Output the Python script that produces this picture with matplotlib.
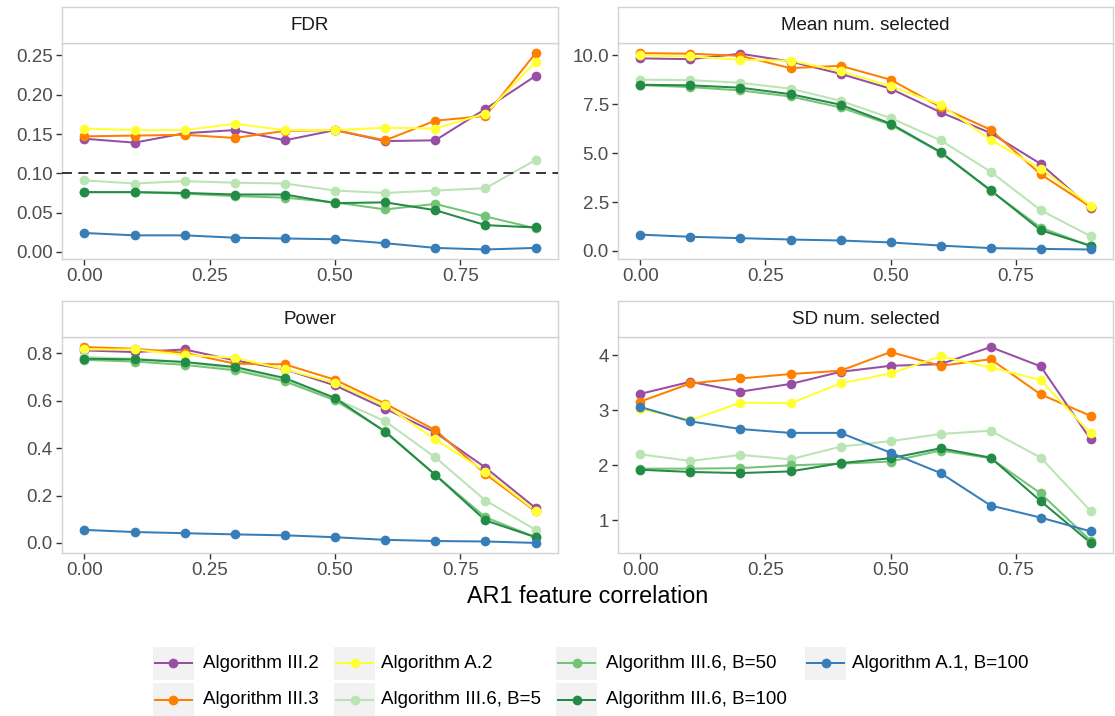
import matplotlib
matplotlib.use("Agg")
import matplotlib.pyplot as plt
from matplotlib.patches import Rectangle
from matplotlib.lines import Line2D
from matplotlib.ticker import FixedLocator, FormatStrFormatter

plt.rcParams["font.family"] = ["Liberation Sans", "DejaVu Sans"]

# AR1 feature correlation levels
rho = [0.0, 0.1, 0.2, 0.3, 0.4, 0.5, 0.6, 0.7, 0.8, 0.9]

methods = [
    "Algorithm III.2",
    "Algorithm III.3",
    "Algorithm A.2",
    "Algorithm III.6, B=5",
    "Algorithm III.6, B=50",
    "Algorithm III.6, B=100",
    "Algorithm A.1, B=100",
]
colors = ["#984EA3", "#FF7F00", "#FFFF33", "#BAE4B3", "#74C476", "#238B45", "#377EB8"]

fdr = {
    "Algorithm III.2":       [0.144, 0.139, 0.151, 0.155, 0.142, 0.155, 0.141, 0.142, 0.182, 0.224],
    "Algorithm III.3":       [0.147, 0.148, 0.149, 0.145, 0.154, 0.155, 0.142, 0.167, 0.173, 0.253],
    "Algorithm A.2":         [0.157, 0.155, 0.155, 0.163, 0.155, 0.155, 0.158, 0.157, 0.176, 0.242],
    "Algorithm III.6, B=5":  [0.091, 0.087, 0.090, 0.088, 0.087, 0.078, 0.075, 0.078, 0.081, 0.117],
    "Algorithm III.6, B=50": [0.076, 0.076, 0.074, 0.071, 0.069, 0.063, 0.054, 0.061, 0.045, 0.030],
    "Algorithm III.6, B=100":[0.076, 0.076, 0.075, 0.073, 0.073, 0.062, 0.063, 0.053, 0.034, 0.031],
    "Algorithm A.1, B=100":  [0.024, 0.021, 0.021, 0.018, 0.017, 0.016, 0.011, 0.005, 0.003, 0.005],
}

mean_selected = {
    "Algorithm III.2":       [9.85, 9.81, 10.09, 9.69, 9.06, 8.30, 7.09, 6.03, 4.45, 2.20],
    "Algorithm III.3":       [10.12, 10.09, 9.98, 9.35, 9.47, 8.76, 7.36, 6.20, 3.92, 2.25],
    "Algorithm A.2":         [10.00, 9.95, 9.78, 9.73, 9.20, 8.43, 7.48, 5.69, 4.19, 2.32],
    "Algorithm III.6, B=5":  [8.76, 8.74, 8.60, 8.30, 7.68, 6.80, 5.66, 4.05, 2.08, 0.75],
    "Algorithm III.6, B=50": [8.48, 8.38, 8.21, 7.90, 7.34, 6.46, 5.03, 3.08, 1.19, 0.24],
    "Algorithm III.6, B=100":[8.50, 8.47, 8.35, 8.02, 7.48, 6.51, 5.06, 3.10, 1.06, 0.26],
    "Algorithm A.1, B=100":  [0.83, 0.72, 0.65, 0.58, 0.53, 0.43, 0.27, 0.14, 0.10, 0.07],
}

power = {
    "Algorithm III.2":       [0.813, 0.806, 0.817, 0.771, 0.733, 0.665, 0.567, 0.466, 0.318, 0.147],
    "Algorithm III.3":       [0.827, 0.820, 0.803, 0.757, 0.754, 0.689, 0.588, 0.476, 0.291, 0.133],
    "Algorithm A.2":         [0.817, 0.817, 0.794, 0.782, 0.733, 0.675, 0.581, 0.437, 0.301, 0.136],
    "Algorithm III.6, B=5":  [0.785, 0.778, 0.764, 0.736, 0.687, 0.609, 0.514, 0.361, 0.179, 0.055],
    "Algorithm III.6, B=50": [0.773, 0.766, 0.752, 0.729, 0.682, 0.602, 0.472, 0.287, 0.108, 0.024],
    "Algorithm III.6, B=100":[0.778, 0.775, 0.764, 0.743, 0.696, 0.612, 0.469, 0.287, 0.095, 0.024],
    "Algorithm A.1, B=100":  [0.055, 0.046, 0.041, 0.036, 0.032, 0.024, 0.013, 0.008, 0.006, 0.000],
}

sd_selected = {
    "Algorithm III.2":       [3.30, 3.52, 3.34, 3.48, 3.70, 3.81, 3.84, 4.15, 3.80, 2.47],
    "Algorithm III.3":       [3.16, 3.49, 3.58, 3.66, 3.72, 4.06, 3.81, 3.93, 3.29, 2.90],
    "Algorithm A.2":         [3.03, 2.82, 3.14, 3.13, 3.49, 3.67, 3.98, 3.78, 3.55, 2.58],
    "Algorithm III.6, B=5":  [2.20, 2.08, 2.19, 2.11, 2.34, 2.44, 2.57, 2.63, 2.14, 1.17],
    "Algorithm III.6, B=50": [1.94, 1.94, 1.95, 2.00, 2.03, 2.07, 2.27, 2.13, 1.49, 0.63],
    "Algorithm III.6, B=100":[1.92, 1.88, 1.86, 1.89, 2.04, 2.13, 2.31, 2.14, 1.35, 0.59],
    "Algorithm A.1, B=100":  [3.06, 2.80, 2.66, 2.59, 2.59, 2.23, 1.86, 1.27, 1.05, 0.80],
}

fdr_target = 0.10

x_ticks = [0.0, 0.25, 0.5, 0.75]
fdr_ticks = [0.0, 0.05, 0.10, 0.15, 0.20, 0.25]
mean_ticks = [0.0, 2.5, 5.0, 7.5, 10.0]
power_ticks = [0.0, 0.2, 0.4, 0.6, 0.8]
sd_ticks = [1, 2, 3, 4]

W, H = 1115, 716
fig = plt.figure(figsize=(W / 100, H / 100), dpi=100)
fig.patch.set_facecolor("white")

BORDER = "#D3D3D3"
LW = 1.45
MS = 7.0
TICK_FS = 13.5


def px_axes(x0, y0, x1, y1, **kw):
    return fig.add_axes([x0 / W, 1 - y1 / H, (x1 - x0) / W, (y1 - y0) / H], **kw)


def add_strip(x0, y0, x1, y1, label):
    s = px_axes(x0, y0, x1, y1)
    s.set_xticks([])
    s.set_yticks([])
    s.set_facecolor("white")
    for sp in s.spines.values():
        sp.set_color(BORDER)
        sp.set_linewidth(1.0)
    s.text(0.5, 0.5, label, transform=s.transAxes, ha="center", va="center",
           fontsize=TICK_FS, color="#1A1A1A")


def panel(box, strip_box, title, data, yticks, yfmt, hline=None):
    ax = px_axes(*box)
    add_strip(*strip_box, title)
    for m, c in zip(methods, colors):
        ax.plot(rho, data[m], color=c, lw=LW, zorder=2, solid_capstyle="butt")
    for m, c in zip(methods, colors):
        ax.plot(rho, data[m], linestyle="none", marker="o", ms=MS,
                markerfacecolor=c, markeredgecolor=c, markeredgewidth=0, zorder=3)
    if hline is not None:
        ax.axhline(hline, color="black", lw=1.1, dashes=(6.5, 4.2), zorder=4)
    vals = [v for m in methods for v in data[m]]
    lo, hi = min(vals), max(vals)
    pad = (hi - lo) * 0.05
    ax.set_ylim(lo - pad, hi + pad)
    ax.set_xlim(-0.045, 0.945)
    ax.xaxis.set_major_locator(FixedLocator(x_ticks))
    ax.xaxis.set_major_formatter(FormatStrFormatter("%.2f"))
    ax.yaxis.set_major_locator(FixedLocator(yticks))
    ax.yaxis.set_major_formatter(FormatStrFormatter(yfmt))
    ax.tick_params(axis="both", length=4, width=1.0, color="#333333",
                   labelcolor="#4D4D4D", labelsize=TICK_FS, pad=2.5)
    for sp in ax.spines.values():
        sp.set_color(BORDER)
        sp.set_linewidth(1.0)
    ax.set_facecolor("white")
    return ax


panel((61.8, 43.3, 558.2, 259.3), (61.8, 7.3, 558.2, 43.3), "FDR",
      fdr, fdr_ticks, "%.2f", hline=fdr_target)
panel((617.9, 43.3, 1113.2, 259.3), (617.9, 7.3, 1113.2, 43.3), "Mean num. selected",
      mean_selected, mean_ticks, "%.1f")
panel((61.8, 337.3, 558.2, 552.7), (61.8, 301.0, 558.2, 337.3), "Power",
      power, power_ticks, "%.1f")
panel((617.9, 337.3, 1113.2, 552.7), (617.9, 301.0, 1113.2, 337.3), "SD num. selected",
      sd_selected, sd_ticks, "%d")

fig.text(587.5 / W, 1 - 596.7 / H, "AR1 feature correlation", ha="center", va="center",
         fontsize=16.8, color="black")

# legend drawn in pixel coordinates
lg = fig.add_axes([0, 0, 1, 1], zorder=10)
lg.set_xlim(0, W)
lg.set_ylim(H, 0)
lg.axis("off")

key_cols = [(152.6, 203.0), (334.0, 381.0), (556.0, 606.0), (805.0, 852.0)]
row_centers = [663.0, 699.5]
key_w, key_h = 41.0, 33.0
for i, (m, c) in enumerate(zip(methods, colors)):
    col, row = divmod(i, 2)
    kx, tx = key_cols[col]
    cy = row_centers[row]
    lg.add_patch(Rectangle((kx, cy - key_h / 2), key_w, key_h, facecolor="#F2F2F2",
                           edgecolor="none"))
    lg.add_line(Line2D([kx + 2, kx + key_w - 2], [cy, cy], color=c, lw=LW))
    lg.add_line(Line2D([kx + key_w / 2], [cy], color=c, marker="o", ms=MS,
                       markeredgewidth=0, linestyle="none"))
    lg.text(tx, cy, m, ha="left", va="center", fontsize=TICK_FS, color="black")

fig.savefig("out.png", dpi=100)
